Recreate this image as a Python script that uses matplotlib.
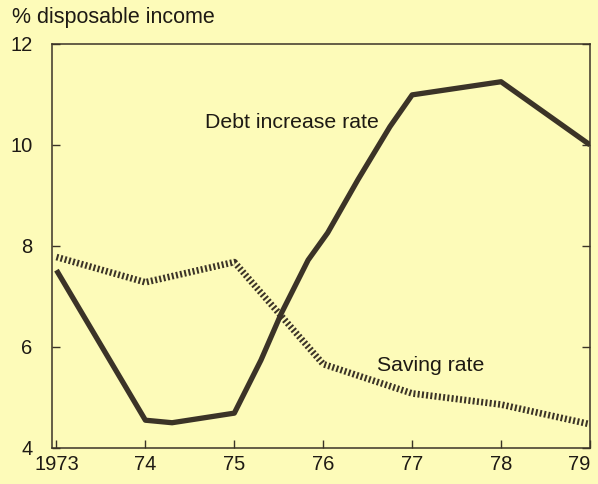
import matplotlib.pyplot as plt

plt.rcParams.update({
    'font.family': ['Liberation Sans', 'DejaVu Sans'],
    'font.size': 14.5,
})

# data
debt_years = [1973, 1974, 1974.3, 1975, 1975.3, 1975.53, 1975.83, 1976.05,
              1976.39, 1976.75, 1977, 1978, 1979]
debt_rate = [7.52, 4.55, 4.5, 4.69, 5.74, 6.67, 7.72, 8.26,
             9.31, 10.36, 10.99, 11.25, 10.0]

saving_years = [1973, 1974, 1975, 1976, 1977, 1978, 1979]
saving_rate = [7.78, 7.28, 7.68, 5.66, 5.08, 4.86, 4.47]

x_ticks = [1973, 1974, 1975, 1976, 1977, 1978, 1979]
x_labels = ['1973', '74', '75', '76', '77', '78', '79']
y_ticks = [4, 6, 8, 10, 12]

bg = '#fdfbb9'
ink = '#3b3327'

fig = plt.figure(figsize=(5.98, 4.84), dpi=100, facecolor=bg)
ax = fig.add_axes([0.087, 0.0744, 0.8996, 0.835], facecolor=bg)

ax.plot(debt_years, debt_rate, color=ink, lw=3.8, solid_joinstyle='round',
        solid_capstyle='butt')
# hatched "saving" line: short thick strokes across the path
ax.plot(saving_years, saving_rate, color=ink, lw=4.8,
        linestyle=(0, (0.3, 0.34)), dash_capstyle='butt')

ax.set_xlim(1972.95, 1979)
ax.set_ylim(4, 12)
ax.set_xticks(x_ticks)
ax.set_xticklabels(x_labels)
ax.set_yticks(y_ticks)
ax.tick_params(direction='in', length=6, width=1.0, color=ink, labelcolor='#1e1a14',
               top=False, right=True)
ax.tick_params(axis='x', pad=5)
ax.tick_params(axis='y', pad=14)
labs = ax.get_xticklabels()
labs[-1].set_ha('right')
for s in ax.spines.values():
    s.set_color(ink)
    s.set_linewidth(1.1)

fig.text(0.02, 0.963, '% disposable income', fontsize=15.5, color='#1e1a14',
         va='center', ha='left')
ax.text(1974.67, 10.45, 'Debt increase rate', fontsize=15.3, color='#1e1a14',
        va='center', ha='left')
ax.text(1976.61, 5.63, 'Saving rate', fontsize=15.3, color='#1e1a14',
        va='center', ha='left')

fig.savefig('out.png', dpi=100, facecolor=bg)
